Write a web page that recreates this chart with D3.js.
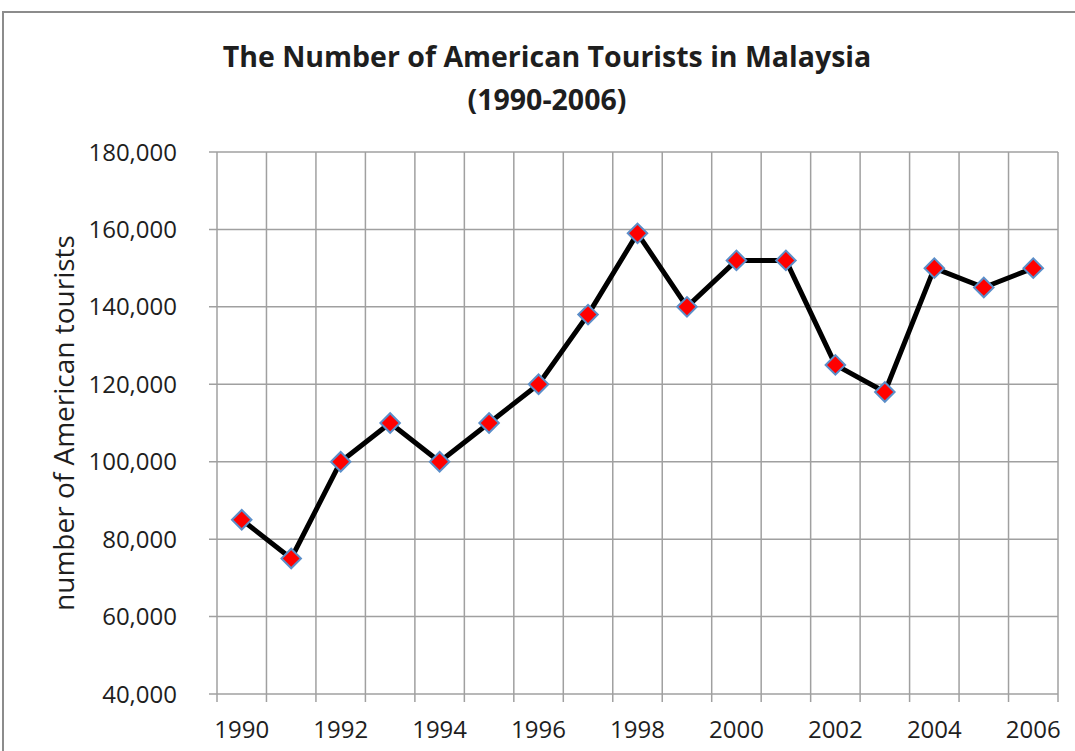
<!DOCTYPE html>
<html>
<head>
<meta charset="utf-8">
<script src="https://cdn.jsdelivr.net/npm/d3@7"></script>
<style>
  html, body { margin: 0; padding: 0; background: #fff; }
  #chart { width: 1075px; height: 751px; overflow: hidden; }
  text { font-family: "Open Sans", "Noto Sans", sans-serif; fill: #1e1e1e; }
</style>
</head>
<body>
<div id="chart"></div>
<script>
'use strict';

const years = ['1990', '1991', '1992', '1993', '1994', '1995', '1996', '1997', '1998',
  '1999', '2000', '2001', '2002', '2003', '2004', '2005', '2006'];
const tourists = [85000, 75000, 100000, 110000, 100000, 110000, 120000, 138000, 159000,
  140000, 152000, 152000, 125000, 118000, 150000, 145000, 150000];
const yTicks = [40000, 60000, 80000, 100000, 120000, 140000, 160000, 180000];
const xLabels = ['1990', '1992', '1994', '1996', '1998', '2000', '2002', '2004', '2006'];

const W = 1075, H = 751;
const margin = { top: 152, right: 17, bottom: 57, left: 217 };

const svg = d3.select('#chart').append('svg')
  .attr('width', W)
  .attr('height', H);

// outer chart frame
svg.append('rect')
  .attr('x', 3).attr('y', 12)
  .attr('width', 1088).attr('height', 760)
  .attr('fill', '#fff')
  .attr('stroke', '#8c8c8c')
  .attr('stroke-width', 2);

const x = d3.scaleBand()
  .domain(years)
  .range([margin.left, W - margin.right]);

const y = d3.scaleLinear()
  .domain([40000, 180000])
  .range([H - margin.bottom, margin.top]);

const gridColor = '#a0a0a0';

// horizontal gridlines
svg.append('g')
  .selectAll('line')
  .data(yTicks)
  .join('line')
  .attr('x1', margin.left - 8)
  .attr('x2', W - margin.right)
  .attr('y1', d => y(d))
  .attr('y2', d => y(d))
  .attr('stroke', gridColor)
  .attr('stroke-width', 1.5);

// vertical gridlines at category boundaries
const bounds = years.map(d => x(d)).concat([x(years[years.length - 1]) + x.bandwidth()]);
svg.append('g')
  .selectAll('line')
  .data(bounds)
  .join('line')
  .attr('x1', d => d)
  .attr('x2', d => d)
  .attr('y1', margin.top)
  .attr('y2', H - margin.bottom + 8)
  .attr('stroke', gridColor)
  .attr('stroke-width', 1.5);

// y tick labels
svg.append('g')
  .selectAll('text')
  .data(yTicks)
  .join('text')
  .attr('x', 177)
  .attr('y', d => y(d))
  .attr('dy', '0.36em')
  .attr('text-anchor', 'end')
  .attr('font-size', 24)
  .text(d3.format(','));

// x tick labels
svg.append('g')
  .selectAll('text')
  .data(xLabels)
  .join('text')
  .attr('x', d => x(d) + x.bandwidth() / 2)
  .attr('y', H - margin.bottom + 35)
  .attr('dy', '0.36em')
  .attr('text-anchor', 'middle')
  .attr('font-size', 24)
  .text(d => d);

// y axis title
svg.append('text')
  .attr('transform', `translate(64,${(margin.top + H - margin.bottom) / 2}) rotate(-90)`)
  .attr('text-anchor', 'middle')
  .attr('dy', '0.36em')
  .attr('font-size', 28)
  .text('number of American tourists');

// chart title
const title = svg.append('text')
  .attr('x', 547)
  .attr('text-anchor', 'middle')
  .attr('font-size', 28.5)
  .attr('font-weight', 'bold');
title.append('tspan').attr('x', 547).attr('y', 67).text('The Number of American Tourists in Malaysia');
title.append('tspan').attr('x', 547).attr('y', 110).text('(1990-2006)');

const cx = d => x(d) + x.bandwidth() / 2;

// series line
const line = d3.line()
  .x((d, i) => cx(years[i]))
  .y(d => y(d));

svg.append('path')
  .datum(tourists)
  .attr('d', line)
  .attr('fill', 'none')
  .attr('stroke', '#000')
  .attr('stroke-width', 5)
  .attr('stroke-linejoin', 'round');

// diamond markers
const diamond = d3.symbol().type(d3.symbolSquare).size(190);
svg.append('g')
  .selectAll('path')
  .data(tourists)
  .join('path')
  .attr('d', diamond)
  .attr('transform', (d, i) => `translate(${cx(years[i])},${y(d)}) rotate(45)`)
  .attr('fill', '#ff0000')
  .attr('stroke', '#5b8ec9')
  .attr('stroke-width', 2);
</script>
</body>
</html>
